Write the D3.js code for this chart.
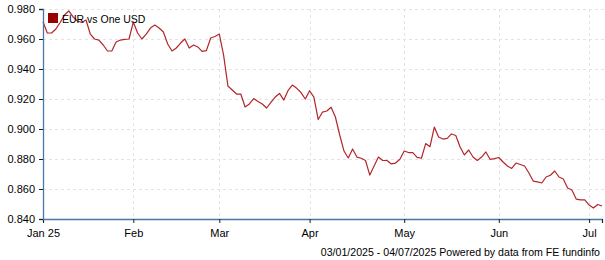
<!DOCTYPE html>
<html>
<head>
<meta charset="utf-8">
<script src="https://cdn.jsdelivr.net/npm/d3@7"></script>
<style>
  body { margin: 0; background: #fff; }
  svg { display: block; font-family: "Liberation Sans", Arial, sans-serif; }
  .axis text { font-size: 11px; fill: #000; }
  .grid line { stroke: #e3e3e3; stroke-dasharray: 3,3; }
</style>
</head>
<body>
<script>
// Chart size, same as the window
var width = 605
var height = 260
var margin = {top: 9, right: 3, bottom: 41, left: 43}

// EUR per one USD, one value per trading day (03/01/2025 - 04/07/2025)
var values = [
  0.9715, 0.9640, 0.9640, 0.9667, 0.9710, 0.9760, 0.9787, 0.9747, 0.9720, 0.9710,
  0.9727, 0.9633, 0.9600, 0.9593, 0.9560, 0.9520, 0.9520, 0.9580, 0.9593, 0.9597,
  0.9600, 0.9713, 0.9640, 0.9600, 0.9633, 0.9673, 0.9693, 0.9673, 0.9647, 0.9567,
  0.9520, 0.9540, 0.9573, 0.9600, 0.9540, 0.9560, 0.9547, 0.9517, 0.9523, 0.9607,
  0.9617, 0.9633, 0.9493, 0.9287, 0.9260, 0.9233, 0.9233, 0.9147, 0.9167, 0.9203,
  0.9183, 0.9167, 0.9140, 0.9177, 0.9213, 0.9237, 0.9193, 0.9257, 0.9293, 0.9271,
  0.9243, 0.9200, 0.9255, 0.9213, 0.9063, 0.9113, 0.9120, 0.9145, 0.9080, 0.8960,
  0.8853, 0.8807, 0.8867, 0.8813, 0.8805, 0.8790, 0.8693, 0.8753, 0.8813, 0.8790,
  0.8790, 0.8767, 0.8773, 0.8798, 0.8853, 0.8843, 0.8842, 0.8811, 0.8805, 0.8903,
  0.8882, 0.9013, 0.8947, 0.8933, 0.8937, 0.8967, 0.8957, 0.8880, 0.8827, 0.8860,
  0.8813, 0.8790, 0.8813, 0.8847, 0.8797, 0.8803, 0.8810, 0.8780, 0.8753, 0.8737,
  0.8773, 0.8763, 0.8753, 0.8707, 0.8653, 0.8647, 0.8640, 0.8680, 0.8692, 0.8720,
  0.8680, 0.8667, 0.8607, 0.8593, 0.8533, 0.8527, 0.8527, 0.8493, 0.8473, 0.8497,
  0.8487
]

// Month ticks sit on the first trading day of each month
var monthTicks = [0, 21, 41, 62, 84, 106, 127]
var monthLabels = ["Jan 25", "Feb", "Mar", "Apr", "May", "Jun", "Jul"]
var yTicks = [0.84, 0.86, 0.88, 0.90, 0.92, 0.94, 0.96, 0.98]

var seriesName = "EUR vs One USD"
var footer = "03/01/2025 - 04/07/2025 Powered by data from FE fundinfo"

var x = d3.scaleLinear()
  .domain([0, values.length - 1])
  .range([margin.left, width - margin.right])

var y = d3.scaleLinear()
  .domain([0.84, 0.98])
  .range([height - margin.bottom, margin.top])

var svg = d3.select("body").append("svg")
  .attr("width", width)
  .attr("height", height)

// dashed grid, horizontal then vertical
svg.append("g")
  .attr("class", "grid")
  .selectAll("line")
  .data(yTicks.slice(1))
  .enter().append("line")
  .attr("x1", margin.left)
  .attr("x2", width)
  .attr("y1", function(d) { return Math.round(y(d)) + 0.5 })
  .attr("y2", function(d) { return Math.round(y(d)) + 0.5 })

svg.append("g")
  .attr("class", "grid")
  .selectAll("line")
  .data(monthTicks.slice(1))
  .enter().append("line")
  .attr("x1", function(d) { return Math.round(x(d)) + 0.5 })
  .attr("x2", function(d) { return Math.round(x(d)) + 0.5 })
  .attr("y1", margin.top)
  .attr("y2", height - margin.bottom)

// the series line
var line = d3.line()
  .x(function(d, i) { return x(i) })
  .y(function(d) { return y(d) })

svg.append("path")
  .datum(values)
  .attr("fill", "none")
  .attr("stroke", "#b3262b")
  .attr("stroke-width", 1.2)
  .attr("stroke-linejoin", "round")
  .attr("d", line)

// axes
var xAxis = d3.axisBottom(x)
  .tickValues(monthTicks.concat([values.length - 1]))
  .tickFormat(function(d) {
    var k = monthTicks.indexOf(d)
    return k < 0 ? "" : monthLabels[k]
  })
  .tickSize(4)
  .tickPadding(6)

var yAxis = d3.axisLeft(y)
  .tickValues(yTicks)
  .tickFormat(d3.format(".3f"))
  .tickSize(4)
  .tickPadding(4)

svg.append("g")
  .attr("class", "x axis")
  .attr("transform", "translate(0," + (height - margin.bottom) + ")")
  .call(xAxis)

svg.append("g")
  .attr("class", "y axis")
  .attr("transform", "translate(" + margin.left + ",0)")
  .call(yAxis)

svg.selectAll(".axis .domain")
  .attr("stroke", "#4a76a8")
  .attr("stroke-width", 1.3)
svg.selectAll(".axis .tick line").attr("stroke", "#222")

// legend
svg.append("rect")
  .attr("x", 48)
  .attr("y", 13)
  .attr("width", 10)
  .attr("height", 10)
  .attr("fill", "#990000")

svg.append("text")
  .attr("x", 62)
  .attr("y", 23)
  .style("font-size", "10.5px")
  .text(seriesName)

// footer note, right aligned
svg.append("text")
  .attr("x", 600)
  .attr("y", 256)
  .style("font-size", "10.6px")
  .style("text-anchor", "end")
  .text(footer)
</script>
</body>
</html>
